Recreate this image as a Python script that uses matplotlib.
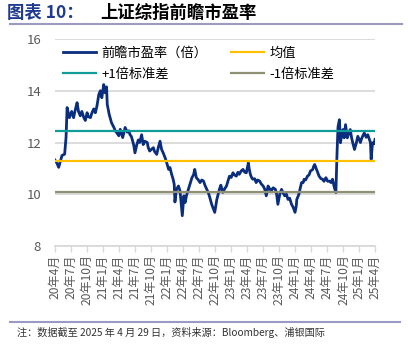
import pandas as pd
import matplotlib
matplotlib.use("Agg")
import matplotlib.pyplot as plt
from matplotlib.lines import Line2D

plt.rcParams['font.family'] = ['Noto Sans CJK SC', 'DejaVu Sans']

# forward PE of the SSE Composite
dates = [
    "2020-04-30", "2020-05-11", "2020-05-21", "2020-06-01", "2020-06-09", "2020-06-24",
    "2020-07-02", "2020-07-08", "2020-07-21", "2020-08-03", "2020-08-14", "2020-08-25",
    "2020-09-03", "2020-09-11", "2020-09-21", "2020-09-30", "2020-10-12", "2020-10-20",
    "2020-10-30", "2020-11-06", "2020-11-18", "2020-11-27", "2020-12-07", "2020-12-16",
    "2020-12-25", "2021-01-05", "2021-01-14", "2021-01-22", "2021-02-02", "2021-02-10",
    "2021-02-18", "2021-02-22", "2021-03-05", "2021-03-18", "2021-04-01", "2021-04-09",
    "2021-04-20", "2021-04-29", "2021-05-07", "2021-05-21", "2021-06-04", "2021-06-16",
    "2021-06-25", "2021-07-02", "2021-07-09", "2021-07-14", "2021-07-23", "2021-07-30",
    "2021-08-09", "2021-08-18", "2021-08-26", "2021-09-06", "2021-09-15", "2021-09-24",
    "2021-10-08", "2021-10-14", "2021-10-22", "2021-11-03", "2021-11-12", "2021-11-19",
    "2021-12-01", "2021-12-10", "2021-12-20", "2021-12-29", "2022-01-07", "2022-01-18",
    "2022-01-27", "2022-02-07", "2022-02-15", "2022-02-24", "2022-03-04", "2022-03-11",
    "2022-03-15", "2022-03-24", "2022-04-04", "2022-04-13", "2022-04-26", "2022-05-05",
    "2022-05-12", "2022-05-20", "2022-05-31", "2022-06-10", "2022-06-20", "2022-06-29",
    "2022-07-06", "2022-07-15", "2022-07-27", "2022-08-05", "2022-08-15", "2022-08-25",
    "2022-09-02", "2022-09-13", "2022-09-22", "2022-09-30", "2022-10-11", "2022-10-21",
    "2022-10-28", "2022-11-09", "2022-11-24", "2022-12-02", "2022-12-13", "2022-12-23",
    "2023-01-03", "2023-01-11", "2023-01-20", "2023-01-30", "2023-02-09", "2023-02-17",
    "2023-02-28", "2023-03-09", "2023-03-17", "2023-03-28", "2023-04-07", "2023-04-17",
    "2023-04-26", "2023-05-08", "2023-05-12", "2023-05-19", "2023-05-26", "2023-06-02",
    "2023-06-13", "2023-06-21", "2023-06-30", "2023-07-11", "2023-07-20", "2023-07-31",
    "2023-08-09", "2023-08-18", "2023-08-28", "2023-09-07", "2023-09-15", "2023-09-26",
    "2023-10-09", "2023-10-16", "2023-10-23", "2023-11-03", "2023-11-13", "2023-11-22",
    "2023-12-01", "2023-12-11", "2023-12-20", "2023-12-29", "2024-01-09", "2024-01-18",
    "2024-01-29", "2024-02-05", "2024-02-08", "2024-02-20", "2024-02-26", "2024-03-06",
    "2024-03-15", "2024-03-21", "2024-03-29", "2024-04-09", "2024-04-18", "2024-04-26",
    "2024-05-08", "2024-05-15", "2024-05-20", "2024-06-03", "2024-06-14", "2024-06-25",
    "2024-07-04", "2024-07-12", "2024-07-23", "2024-08-02", "2024-08-12", "2024-08-21",
    "2024-08-30", "2024-09-09", "2024-09-18", "2024-09-24", "2024-09-30", "2024-10-08",
    "2024-10-14", "2024-10-21", "2024-10-28", "2024-11-04", "2024-11-12", "2024-11-22",
    "2024-12-02", "2024-12-09", "2024-12-16", "2024-12-23", "2025-01-02", "2025-01-13",
    "2025-01-21", "2025-02-05", "2025-02-10", "2025-02-18", "2025-02-27", "2025-03-10",
    "2025-03-19", "2025-03-28", "2025-04-03", "2025-04-07", "2025-04-15", "2025-04-24",
    "2025-04-29",
]
pe = [
    11.32, 11.20, 11.04, 11.30, 11.50, 11.55,
    12.20, 13.35, 12.96, 13.20, 12.96, 13.30,
    13.54, 13.20, 13.03, 13.20, 12.95, 12.85,
    13.15, 13.00, 12.96, 13.15, 13.30, 13.15,
    13.40, 13.86, 14.00, 13.73, 14.24, 13.92,
    14.15, 13.47, 13.09, 12.77, 12.58, 12.45,
    12.35, 12.26, 12.51, 12.19, 12.58, 12.40,
    12.45, 12.30, 12.24, 12.13, 11.90, 11.60,
    11.90, 12.10, 12.00, 12.30, 11.92, 12.05,
    12.00, 11.80, 11.67, 11.75, 11.80, 11.65,
    11.54, 11.80, 12.05, 11.73, 11.60, 11.41,
    11.22, 10.96, 11.03, 10.77, 10.60, 10.38,
    9.70, 10.19, 10.32, 10.13, 9.17, 9.94,
    9.68, 9.95, 10.19, 10.40, 10.64, 10.75,
    10.96, 10.64, 10.55, 10.45, 10.55, 10.51,
    10.35, 10.19, 10.05, 9.87, 9.60, 9.42,
    9.30, 9.80, 10.20, 10.35, 10.07, 10.20,
    10.32, 10.50, 10.70, 10.65, 10.83, 10.75,
    10.70, 10.85, 10.77, 10.90, 10.96, 10.85,
    10.83, 11.22, 11.00, 10.77, 10.65, 10.58,
    10.60, 10.45, 10.55, 10.51, 10.40, 10.32,
    10.20, 9.94, 10.32, 10.20, 10.13, 10.25,
    10.19, 10.00, 9.61, 10.00, 10.19, 10.05,
    9.94, 10.00, 9.80, 9.85, 9.61, 9.50,
    9.30, 9.55, 9.80, 10.00, 10.19, 10.45,
    10.45, 10.58, 10.55, 10.70, 10.75, 10.90,
    10.95, 11.09, 11.15, 10.90, 10.70, 10.60,
    10.58, 10.50, 10.64, 10.50, 10.51, 10.45,
    10.58, 10.26, 10.07, 11.50, 12.60, 12.88,
    11.99, 12.30, 12.50, 12.18, 12.69, 12.18,
    12.40, 12.50, 12.20, 11.99, 11.73, 12.00,
    12.24, 12.00, 12.12, 12.25, 12.37, 12.20,
    12.30, 12.12, 12.00, 11.35, 11.99, 11.95,
    12.12,
]
mean_pe = 11.27
plus_1sd = 12.43
minus_1sd = 10.09

tick_dates = [
    "2020-04-30", "2020-07-31", "2020-10-30", "2021-01-29", "2021-04-30", "2021-07-30",
    "2021-10-29", "2022-01-28", "2022-04-29", "2022-07-29", "2022-10-31", "2023-01-31",
    "2023-04-28", "2023-07-31", "2023-10-31", "2024-01-31", "2024-04-30", "2024-07-31",
    "2024-10-31", "2025-01-27", "2025-04-29",
]
tick_labels = [
    "20年4月", "20年7月", "20年10月", "21年1月", "21年4月", "21年7月",
    "21年10月", "22年1月", "22年4月", "22年7月", "22年10月", "23年1月",
    "23年4月", "23年7月", "23年10月", "24年1月", "24年4月", "24年7月",
    "24年10月", "25年1月", "25年4月",
]

x = pd.to_datetime(dates)
ticks = pd.to_datetime(tick_dates)

fig = plt.figure(figsize=(4.08, 3.54), dpi=100)
ax = fig.add_axes([55 / 408, 1 - 246 / 354, 320 / 408, 207 / 354])

navy = "#0b2d7e"
gold = "#ffc000"
teal = "#119c99"
olive = "#8f8f73"
grid_c = "#d9d9d9"
text_c = "#595959"

ax.plot(x, pe, color=navy, lw=2.0, zorder=3, solid_joinstyle="round")
ax.axhline(mean_pe, color=gold, lw=1.6, zorder=4)
ax.axhline(plus_1sd, color=teal, lw=1.6, zorder=4)
ax.axhline(minus_1sd, color=olive, lw=1.6, zorder=4)

ax.set_ylim(8, 16)
ax.set_yticks([8, 10, 12, 14, 16])
ax.set_xlim(x[0], x[-1])
ax.grid(axis="y", color=grid_c, lw=1.3)
ax.set_axisbelow(True)
for s in ["top", "right", "left"]:
    ax.spines[s].set_visible(False)
ax.spines["bottom"].set_color(grid_c)
ax.spines["bottom"].set_linewidth(1.3)

ax.set_xticks(ticks)
ax.set_xticklabels(tick_labels, rotation=90, fontsize=8.7, color=text_c)
ax.tick_params(axis="x", length=4, width=1, color=grid_c, pad=2)
ax.tick_params(axis="y", length=0, labelsize=9.5, colors=text_c, pad=10)

handles = [
    Line2D([], [], color=navy, lw=2.0),
    Line2D([], [], color=teal, lw=1.6),
    Line2D([], [], color=gold, lw=1.6),
    Line2D([], [], color=olive, lw=1.6),
]
labels = ["前瞻市盈率（倍）", "+1倍标准差", "均值", "-1倍标准差"]
ax.legend(handles, labels, ncol=2, loc="upper left", bbox_to_anchor=(0.0, 1.0),
          frameon=False, fontsize=9.5, handlelength=2.5, columnspacing=1.8,
          labelspacing=0.6, handletextpad=0.4, borderaxespad=0.2)

# header and footer
fig.text(7 / 408, 1 - 13 / 354, "图表 10：", fontsize=12.5, fontweight="bold",
         color="#1f3b8f", va="center", ha="left")
fig.text(100 / 408, 1 - 13 / 354, "上证综指前瞻市盈率", fontsize=12.5,
         fontweight="bold", color="black", va="center", ha="left")
fig.add_artist(Line2D([10 / 408, 402 / 408], [1 - 24 / 354, 1 - 24 / 354],
                      color="#9a9ac4", lw=1.5))
fig.add_artist(Line2D([10 / 408, 400 / 408], [1 - 322 / 354, 1 - 322 / 354],
                      color="#9a9ac4", lw=1.5))
fig.text(17 / 408, 1 - 332 / 354, "注：数据截至 2025 年 4 月 29 日，资料来源：Bloomberg、浦银国际",
         fontsize=7.3, color="#333333", va="center", ha="left")

fig.savefig("out.png", dpi=100)
